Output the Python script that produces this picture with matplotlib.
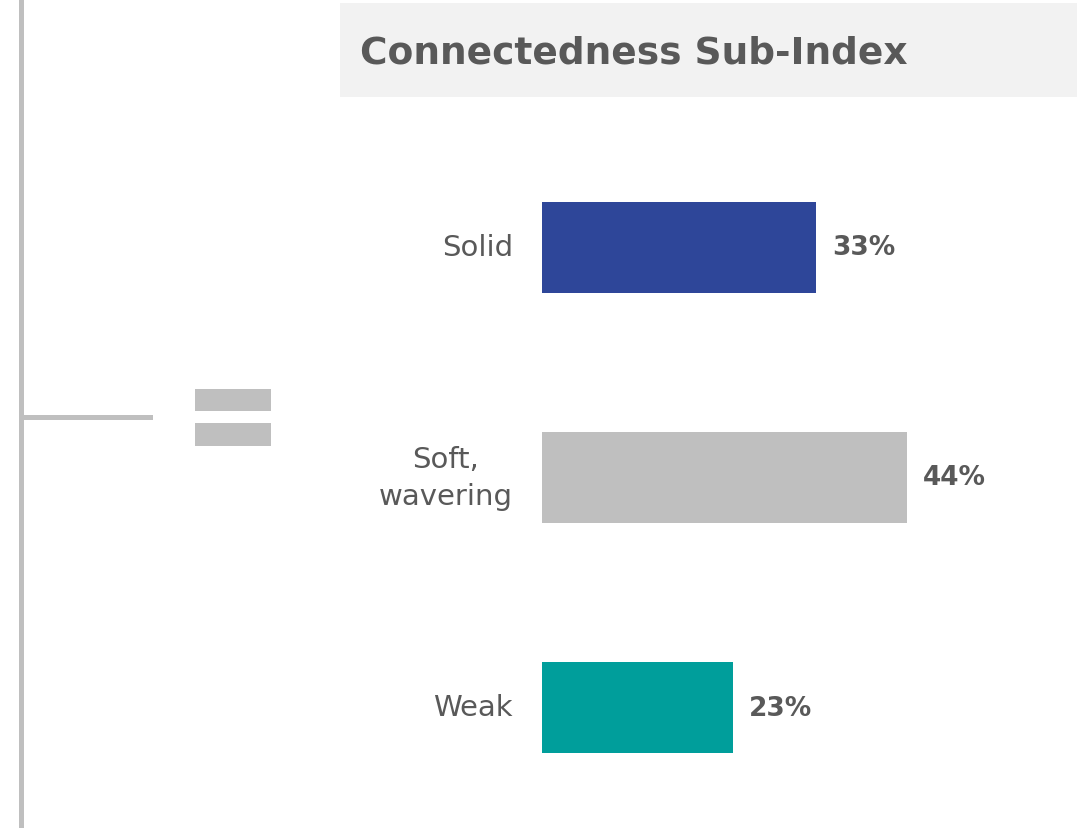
import matplotlib
matplotlib.use("Agg")
import matplotlib.pyplot as plt
from matplotlib.patches import Rectangle

# Data
categories = ["Solid", "Soft,\nwavering", "Weak"]
values = [33, 44, 23]
bar_colors = ["#2E4699", "#BFBFBF", "#009E9B"]
title = "Connectedness Sub-Index"

W, H = 1089, 829
DPI = 100
TEXT = "#595959"
DECOR = "#BFBFBF"

plt.rcParams["font.family"] = ["DejaVu Sans"]

fig = plt.figure(figsize=(W / DPI, H / DPI), dpi=DPI)
fig.patch.set_facecolor("white")


def fig_rect(x0, y0, x1, y1, color, z=0):
    """Rectangle given in pixel coordinates measured from the top-left."""
    fig.add_artist(Rectangle((x0 / W, 1 - y1 / H), (x1 - x0) / W, (y1 - y0) / H,
                             transform=fig.transFigure, facecolor=color,
                             edgecolor="none", zorder=z))


# Bracket line on the left and the equals sign
fig_rect(19, 0, 24, 829, DECOR)
fig_rect(24, 416, 153, 421, DECOR)
fig_rect(195, 390, 271, 412, DECOR)
fig_rect(195, 424, 271, 447, DECOR)

# Title banner
fig_rect(340, 4, 1077, 98, "#F2F2F2")
fig.text(360 / W, 1 - 53 / H, title, ha="left", va="center",
         fontsize=27, fontweight="bold", color=TEXT)

# Bar chart axes: zero at x=542px, 8.3 px per percentage point
px_per_unit = 8.3
x0_px = 542
ax = fig.add_axes([x0_px / W, 0, (W - x0_px) / W, 1])
ax.set_xlim(0, (W - x0_px) / px_per_unit)
row_px = 230
first_center = 248.5
top = -first_center / row_px
bottom = top + H / row_px
ax.set_ylim(bottom, top)
ax.axis("off")
ax.patch.set_alpha(0)

ypos = list(range(len(categories)))
ax.barh(ypos, values, height=91 / row_px, color=bar_colors, left=0)

for y, cat, v in zip(ypos, categories, values):
    ax.annotate(cat, xy=(0, y), xytext=(-21, 0), textcoords="offset points",
                ha="right", va="center", multialignment="center",
                fontsize=21, color=TEXT, linespacing=1.45)
    ax.annotate(f"{v}%", xy=(v, y), xytext=(11.5, 0), textcoords="offset points",
                ha="left", va="center", fontsize=19, fontweight="bold",
                color=TEXT)

fig.savefig("out.png", dpi=DPI, facecolor="white")
